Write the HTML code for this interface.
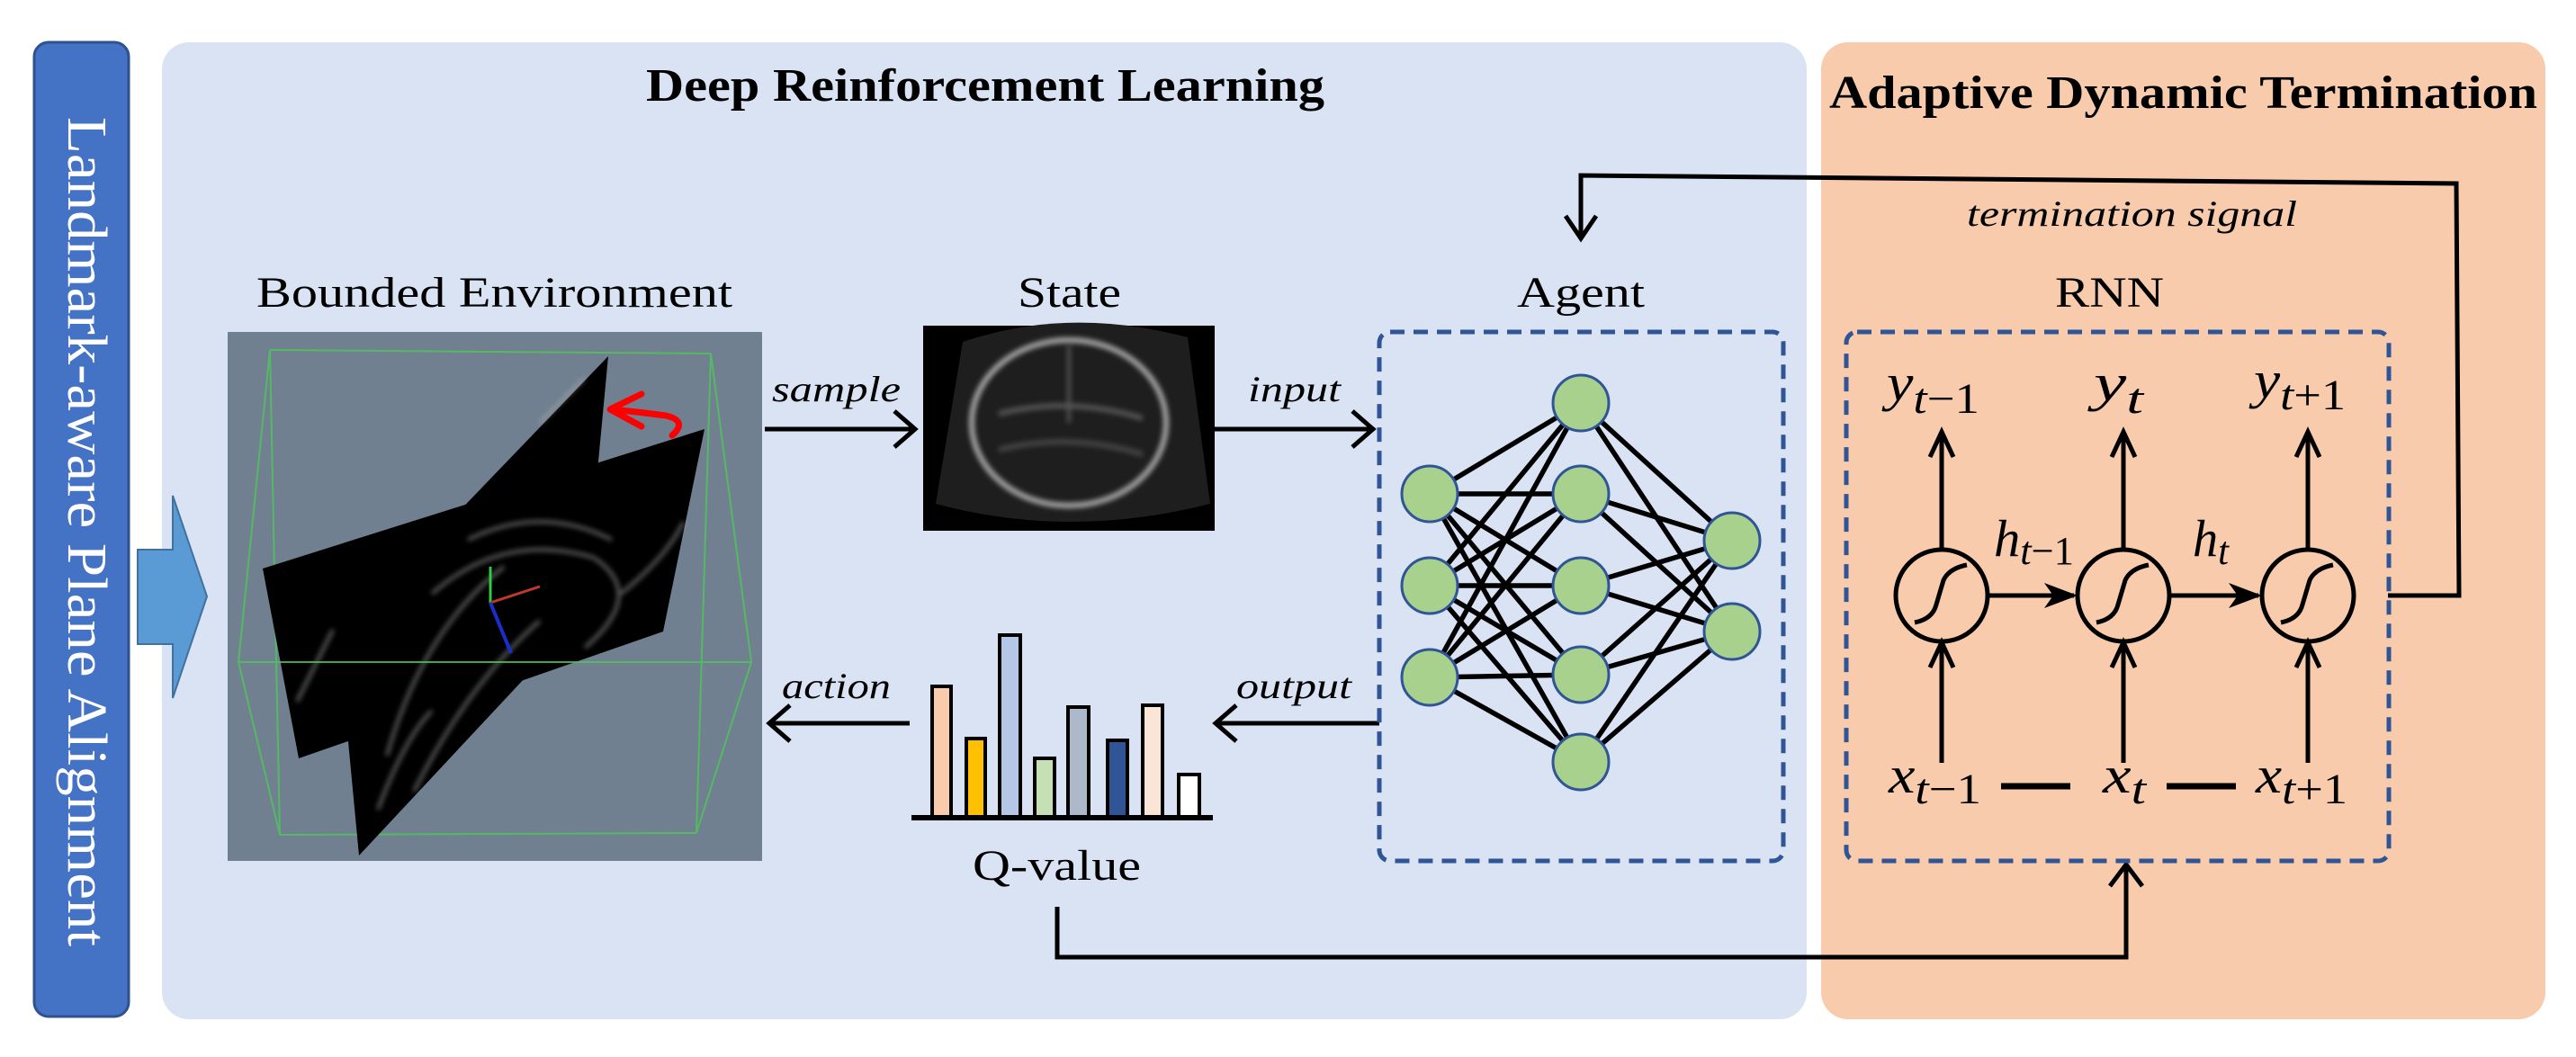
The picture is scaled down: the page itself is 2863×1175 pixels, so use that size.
<!DOCTYPE html>
<html><head><meta charset="utf-8"><style>
html,body{margin:0;padding:0;background:#fff;}
svg{display:block;}
text,tspan{font-family:"Liberation Serif","Times New Roman",Times,serif;}
</style></head><body>
<svg width="2863" height="1175" viewBox="0 0 2863 1175" xmlns="http://www.w3.org/2000/svg" font-family="Liberation Serif, Times New Roman, serif">
<defs>
<filter id="bl"><feGaussianBlur stdDeviation="3"/></filter>
</defs>
<!-- left bar -->
<rect x="38" y="47" width="105" height="1083" rx="16" fill="#4472c4" stroke="#2f528f" stroke-width="3"/>
<text transform="translate(76,130) rotate(90)" font-size="62" fill="#fff" textLength="922" lengthAdjust="spacingAndGlyphs">Landmark-aware Plane Alignment</text>
<!-- panels -->
<rect x="180" y="47" width="1828" height="1086" rx="30" fill="#dae3f3"/>
<rect x="2024" y="47" width="805" height="1086" rx="30" fill="#f8cbad"/>
<!-- blue arrow (on top) -->
<polygon points="153,611 192,611 192,551 230,663 192,776 192,716 153,716" fill="#5b9bd5" stroke="#41719c" stroke-width="2"/>
<text x="718" y="112" font-size="52" font-weight="bold" textLength="754" lengthAdjust="spacingAndGlyphs">Deep Reinforcement Learning</text>
<text x="2033" y="120" font-size="52" font-weight="bold" textLength="787" lengthAdjust="spacingAndGlyphs">Adaptive Dynamic Termination</text>

<!-- Environment -->
<text x="285" y="341" font-size="48" textLength="529" lengthAdjust="spacingAndGlyphs">Bounded Environment</text>
<rect x="253" y="369" width="594" height="588" fill="#708090"/>
<g stroke="#4fc35a" stroke-width="2" fill="none" opacity="0.85">
<line x1="300" y1="389" x2="790" y2="393"/>
<line x1="300" y1="389" x2="265" y2="736"/>
<line x1="790" y1="393" x2="835" y2="736"/>
<line x1="311" y1="928" x2="774" y2="926"/>
<line x1="265" y1="736" x2="311" y2="928"/>
<line x1="835" y1="736" x2="774" y2="926"/>
<line x1="300" y1="389" x2="311" y2="928"/>
<line x1="790" y1="393" x2="774" y2="926"/>
</g>
<polygon points="676,396 665,513 583,754 399,951 376,708" fill="#000"/>
<polygon points="292,632 783,477 737,702 332,843" fill="#000"/>
<g fill="none" stroke="#aaa" stroke-width="4" opacity="0.55" filter="url(#bl)">
<path d="M520,600 Q600,560 680,600"/>
<path d="M480,660 Q560,590 660,620 Q720,660 650,720"/>
<path d="M430,840 Q470,700 560,630"/>
<path d="M460,880 Q520,760 600,690"/>
<path d="M690,660 Q740,620 760,580"/>
<path d="M600,470 L650,420"/>
<path d="M330,780 L370,700"/>
<path d="M420,900 Q450,820 480,790"/>
</g>
<line x1="265" y1="736" x2="835" y2="736" stroke="#4fc35a" stroke-width="2" opacity="0.85"/>
<line x1="545" y1="670" x2="545" y2="630" stroke="#2ecc40" stroke-width="3"/>
<line x1="545" y1="670" x2="600" y2="652" stroke="#c0392b" stroke-width="3"/>
<line x1="545" y1="670" x2="568" y2="726" stroke="#1a2ecc" stroke-width="4"/>
<!-- red arrow -->
<path d="M747,484 Q765,468 740,462 Q710,458 680,455" fill="none" stroke="#ff0000" stroke-width="7" stroke-linecap="round"/>
<polyline points="713,438 678,455 713,474" fill="none" stroke="#ff0000" stroke-width="7" stroke-linecap="round" stroke-linejoin="round"/>

<!-- State -->
<text x="1131" y="341" font-size="48" textLength="115" lengthAdjust="spacingAndGlyphs">State</text>
<rect x="1026" y="362" width="324" height="228" fill="#000"/>
<path d="M1070,380 Q1188,340 1320,375 L1345,560 Q1188,600 1040,560 Z" fill="#1e1e1e"/>
<g filter="url(#bl)" fill="none">
<ellipse cx="1188" cy="470" rx="108" ry="92" stroke="#aaa" stroke-width="6"/>
<path d="M1110,460 Q1188,440 1270,465" stroke="#555" stroke-width="6"/>
<path d="M1110,500 Q1188,480 1270,505" stroke="#444" stroke-width="6"/>
<line x1="1188" y1="385" x2="1188" y2="470" stroke="#555" stroke-width="4"/>
</g>

<!-- sample / input arrows -->
<text x="858" y="446" font-size="40" font-style="italic" textLength="143" lengthAdjust="spacingAndGlyphs">sample</text>
<g stroke="#000" stroke-width="5" fill="none" stroke-linejoin="miter">
<line x1="850" y1="477" x2="1016" y2="477"/>
<polyline points="994,457 1017,477 994,497"/>
<line x1="1350" y1="477" x2="1525" y2="477"/>
<polyline points="1503,457 1526,477 1503,497"/>
<line x1="1533" y1="804" x2="1352" y2="804"/>
<polyline points="1374,784 1351,804 1374,824"/>
<line x1="1011" y1="804" x2="856" y2="804"/>
<polyline points="878,784 855,804 878,824"/>
</g>
<text x="1387" y="446" font-size="40" font-style="italic" textLength="103" lengthAdjust="spacingAndGlyphs">input</text>
<text x="1374" y="776" font-size="40" font-style="italic" textLength="128" lengthAdjust="spacingAndGlyphs">output</text>
<text x="869" y="776" font-size="40" font-style="italic" textLength="121" lengthAdjust="spacingAndGlyphs">action</text>

<!-- Q-value -->
<g stroke="#000" stroke-width="4">
<rect x="1036" y="763" width="21" height="146" fill="#f8cbad"/>
<rect x="1074" y="821" width="21" height="88" fill="#ffc000"/>
<rect x="1111" y="706" width="23" height="203" fill="#b4c7e7"/>
<rect x="1150" y="843" width="22" height="66" fill="#c5e0b4"/>
<rect x="1187" y="786" width="23" height="123" fill="#adb9ca"/>
<rect x="1231" y="823" width="22" height="86" fill="#2f5597"/>
<rect x="1270" y="784" width="22" height="125" fill="#fbe5d6"/>
<rect x="1310" y="861" width="23" height="48" fill="#fff"/>
</g>
<line x1="1013" y1="909" x2="1348" y2="909" stroke="#000" stroke-width="6"/>
<text x="1081" y="978" font-size="48" textLength="187" lengthAdjust="spacingAndGlyphs">Q-value</text>

<!-- bottom connector -->
<polyline points="1175,1008 1175,1064 2363,1064 2363,962" fill="none" stroke="#000" stroke-width="5"/>
<polyline points="2345,985 2363,961 2381,985" fill="none" stroke="#000" stroke-width="5"/>

<!-- Agent -->
<text x="1686" y="341" font-size="48" textLength="142" lengthAdjust="spacingAndGlyphs">Agent</text>
<rect x="1533" y="369" width="449" height="588" rx="12" fill="none" stroke="#2f5597" stroke-width="5" stroke-dasharray="16,10"/>
<g stroke="#000" stroke-width="5.5">
<line x1="1589" y1="549" x2="1757" y2="448"/><line x1="1589" y1="549" x2="1757" y2="549"/><line x1="1589" y1="549" x2="1757" y2="651"/><line x1="1589" y1="549" x2="1757" y2="750"/><line x1="1589" y1="549" x2="1757" y2="847"/>
<line x1="1589" y1="651" x2="1757" y2="448"/><line x1="1589" y1="651" x2="1757" y2="549"/><line x1="1589" y1="651" x2="1757" y2="651"/><line x1="1589" y1="651" x2="1757" y2="750"/><line x1="1589" y1="651" x2="1757" y2="847"/>
<line x1="1589" y1="753" x2="1757" y2="448"/><line x1="1589" y1="753" x2="1757" y2="549"/><line x1="1589" y1="753" x2="1757" y2="651"/><line x1="1589" y1="753" x2="1757" y2="750"/><line x1="1589" y1="753" x2="1757" y2="847"/>
<line x1="1757" y1="448" x2="1925" y2="601"/><line x1="1757" y1="448" x2="1925" y2="702"/>
<line x1="1757" y1="549" x2="1925" y2="601"/><line x1="1757" y1="549" x2="1925" y2="702"/>
<line x1="1757" y1="651" x2="1925" y2="601"/><line x1="1757" y1="651" x2="1925" y2="702"/>
<line x1="1757" y1="750" x2="1925" y2="601"/><line x1="1757" y1="750" x2="1925" y2="702"/>
<line x1="1757" y1="847" x2="1925" y2="601"/><line x1="1757" y1="847" x2="1925" y2="702"/>
</g>
<g fill="#a9d18e" stroke="#2f5597" stroke-width="3">
<ellipse cx="1589" cy="549" rx="31" ry="31"/><ellipse cx="1589" cy="651" rx="31" ry="31"/><ellipse cx="1589" cy="753" rx="31" ry="31"/>
<ellipse cx="1757" cy="448" rx="31" ry="31"/><ellipse cx="1757" cy="549" rx="31" ry="31"/><ellipse cx="1757" cy="651" rx="31" ry="31"/><ellipse cx="1757" cy="750" rx="31" ry="31"/><ellipse cx="1757" cy="847" rx="31" ry="31"/>
<ellipse cx="1925" cy="601" rx="31" ry="31"/><ellipse cx="1925" cy="702" rx="31" ry="31"/>
</g>

<!-- termination feedback -->
<polyline points="2654,662 2733,662 2730,204 1757,195 1757,264" fill="none" stroke="#000" stroke-width="5"/>
<polyline points="1740,240 1757,265 1774,240" fill="none" stroke="#000" stroke-width="5"/>
<text x="2186" y="251" font-size="40" font-style="italic" textLength="367" lengthAdjust="spacingAndGlyphs">termination signal</text>

<!-- RNN -->
<text x="2284" y="341" font-size="48" textLength="121" lengthAdjust="spacingAndGlyphs">RNN</text>
<rect x="2052" y="369" width="603" height="588" rx="12" fill="none" stroke="#2f5597" stroke-width="5" stroke-dasharray="16,10"/>
<g stroke="#000" stroke-width="5" fill="none">
<circle cx="2158" cy="662" r="51"/><circle cx="2360" cy="662" r="51"/><circle cx="2565" cy="662" r="51"/>
<path d="M2128,692 Q2148,688 2152,672 L2160,645 Q2166,632 2186,628"/>
<path d="M2330,692 Q2350,688 2354,672 L2362,645 Q2368,632 2388,628"/>
<path d="M2535,692 Q2555,688 2559,672 L2567,645 Q2573,632 2593,628"/>
<line x1="2158" y1="611" x2="2158" y2="480"/><polyline points="2145,508 2158,480 2171,508"/>
<line x1="2360" y1="611" x2="2360" y2="480"/><polyline points="2347,508 2360,480 2373,508"/>
<line x1="2565" y1="611" x2="2565" y2="480"/><polyline points="2552,508 2565,480 2578,508"/>
<line x1="2158" y1="848" x2="2158" y2="715"/><polyline points="2145,742 2158,714 2171,742"/>
<line x1="2360" y1="848" x2="2360" y2="715"/><polyline points="2347,742 2360,714 2373,742"/>
<line x1="2565" y1="848" x2="2565" y2="715"/><polyline points="2552,742 2565,714 2578,742"/>
<line x1="2209" y1="662" x2="2305" y2="662"/>
<line x1="2411" y1="662" x2="2510" y2="662"/>
<line x1="2224" y1="874" x2="2301" y2="874" stroke-width="7"/>
<line x1="2408" y1="874" x2="2485" y2="874" stroke-width="7"/>
</g>
<polygon points="2309,662 2272,648 2282,662 2272,676" fill="#000"/>
<polygon points="2514,662 2477,648 2487,662 2477,676" fill="#000"/>
<!-- math labels -->
<g font-size="58">
<text x="2097" y="445" textLength="103" lengthAdjust="spacingAndGlyphs"><tspan font-style="italic">y</tspan><tspan font-size="48" dy="14" font-style="italic">t</tspan><tspan font-size="48">−1</tspan></text>
<text x="2327" y="445" textLength="55" lengthAdjust="spacingAndGlyphs"><tspan font-style="italic">y</tspan><tspan font-size="48" dy="14" font-style="italic">t</tspan></text>
<text x="2505" y="442" textLength="102" lengthAdjust="spacingAndGlyphs"><tspan font-style="italic">y</tspan><tspan font-size="48" dy="13" font-style="italic">t</tspan><tspan font-size="48">+1</tspan></text>
<text x="2099" y="881" textLength="103" lengthAdjust="spacingAndGlyphs"><tspan font-style="italic">x</tspan><tspan font-size="48" dy="12" font-style="italic">t</tspan><tspan font-size="48">−1</tspan></text>
<text x="2337" y="881" textLength="48" lengthAdjust="spacingAndGlyphs"><tspan font-style="italic">x</tspan><tspan font-size="48" dy="12" font-style="italic">t</tspan></text>
<text x="2507" y="881" textLength="102" lengthAdjust="spacingAndGlyphs"><tspan font-style="italic">x</tspan><tspan font-size="48" dy="12" font-style="italic">t</tspan><tspan font-size="48">+1</tspan></text>
<text x="2216" y="618" textLength="89" lengthAdjust="spacingAndGlyphs"><tspan font-style="italic">h</tspan><tspan font-size="44" dy="9" font-style="italic">t</tspan><tspan font-size="44">−1</tspan></text>
<text x="2437" y="618" textLength="40" lengthAdjust="spacingAndGlyphs"><tspan font-style="italic">h</tspan><tspan font-size="44" dy="9" font-style="italic">t</tspan></text>
</g>
</svg>
</body></html>
